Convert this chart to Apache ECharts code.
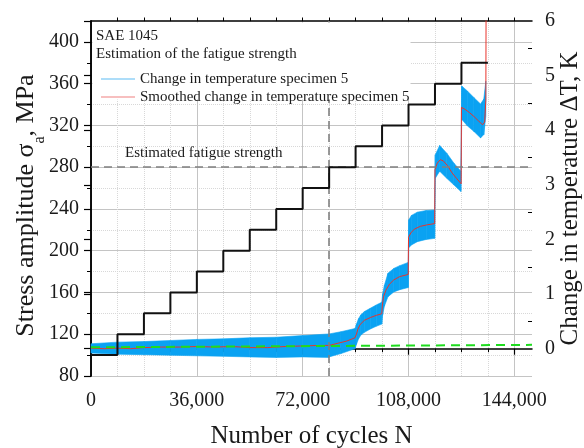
<!DOCTYPE html>
<html lang="en">
<head>
  <meta charset="UTF-8">
  <title>SAE 1045 fatigue strength</title>
  <script src="https://cdn.jsdelivr.net/npm/echarts@6.0.0/dist/echarts.min.js"></script>
  <style>
    html, body { margin: 0; padding: 0; background: #fff; }
    #main { width: 584px; height: 448px; }
  </style>
</head>
<body>
<div id="main"></div>
<script>
  // load steps (stress amplitude, MPa)
  var stepN = [0, 9000, 18000, 27000, 36000, 45000, 54000, 63000, 72000, 81000, 90000, 99000, 108000, 117000, 126000, 135000];
  var stepS = [100, 120, 140, 160, 180, 200, 220, 240, 260, 280, 300, 320, 340, 360, 380, 380];

  // raw temperature signal, drawn as its scatter band (lower / upper edge), K
  var bandN = [0, 9000, 18000, 27000, 36000, 45000, 54000, 63000, 72000, 80900, 81000, 85000, 89800, 90300, 91000, 91800, 93000, 95000, 97000, 98900,
    99200, 99800, 101000, 103000, 105000, 107900, 108100, 109000, 111000, 114000, 116900, 117100, 118600, 121000, 123400, 125800,
    126100, 128000, 130200, 132500, 133600, 134300];
  var bandLow = [-0.08, -0.10, -0.11, -0.12, -0.13, -0.14, -0.15, -0.16, -0.15, -0.16, -0.15, -0.09, 0.00, 0.08, 0.18, 0.25, 0.30, 0.36, 0.41, 0.45,
    0.62, 0.78, 0.95, 1.04, 1.08, 1.12, 1.85, 1.90, 1.96, 2.00, 2.02, 3.12, 3.25, 3.12, 3.00, 2.88,
    4.20, 4.08, 3.98, 3.86, 3.92, 4.26];
  var bandHigh = [0.09, 0.12, 0.13, 0.15, 0.17, 0.18, 0.20, 0.21, 0.24, 0.27, 0.27, 0.31, 0.37, 0.45, 0.55, 0.62, 0.68, 0.74, 0.80, 0.85,
    1.00, 1.16, 1.38, 1.47, 1.52, 1.58, 2.36, 2.44, 2.50, 2.53, 2.54, 3.55, 3.72, 3.58, 3.40, 3.25,
    4.81, 4.72, 4.60, 4.48, 4.57, 4.90];

  // smoothed temperature, K
  var redN = [0, 4500, 9000, 13500, 18000, 24000, 30000, 36000, 42000, 48000, 54000, 60000, 66000, 72000, 78000, 81000, 84000, 87000, 89800,
    90300, 90800, 91500, 93000, 95000, 97000, 98900, 99100, 99500, 100300, 101500, 103000, 105000, 107900,
    108000, 108800, 110000, 112000, 114500, 116900, 117000, 117800, 118800, 119800, 121300, 122800, 124300, 125900,
    126000, 127300, 128800, 130300, 131800, 133200, 133900, 134300, 134400];
  var redT = [0.01, 0.00, 0.01, 0.00, 0.02, 0.03, 0.03, 0.04, 0.03, 0.04, 0.02, 0.02, 0.04, 0.05, 0.06, 0.06, 0.10, 0.14, 0.20,
    0.27, 0.36, 0.44, 0.52, 0.57, 0.61, 0.64, 0.80, 0.95, 1.07, 1.18, 1.26, 1.32, 1.36,
    2.04, 2.12, 2.19, 2.24, 2.27, 2.29, 3.28, 3.40, 3.46, 3.44, 3.35, 3.22, 3.12, 3.02,
    4.42, 4.38, 4.32, 4.25, 4.17, 4.10, 4.15, 4.55, 6.60];

  // baseline fit (green dashed)
  var baseN = [0, 150000];
  var baseT = [0.025, 0.07];

  var fatigueLimit = 280;
  var fatigueN = 81000;

  // ticks
  var xMajor = [0, 36000, 72000, 108000, 144000];
  var xMinor = [9000, 18000, 27000, 45000, 54000, 63000, 81000, 90000, 99000, 117000, 126000, 135000];
  var xTop = [9000, 18000, 27000, 36000, 45000, 54000, 63000, 72000, 81000, 90000, 99000, 108000, 117000, 126000, 135000, 144000];
  var sMajor = [80, 120, 160, 200, 240, 280, 320, 360, 400];
  var sMinor = [100, 140, 180, 220, 260, 300, 340, 380];
  var tMajor = [0, 1, 2, 3, 4, 5, 6];
  var tMinor = [0.5, 1.5, 2.5, 3.5, 4.5, 5.5];

  var bandName = 'Change in temperature specimen 5';
  var redName = 'Smoothed change in temperature specimen 5';

  var serif = "'Liberation Serif', 'DejaVu Serif', serif";
  var ink = '#1a1a1a';

  function zip(a, b) {
    var out = [];
    for (var i = 0; i < a.length; i++) out.push([a[i], b[i]]);
    return out;
  }
  function thousands(v) {
    return String(v).replace(/\B(?=(\d{3})+(?!\d))/g, ',');
  }

  var bandData = [];
  for (var i = 0; i < bandN.length; i++) bandData.push([bandN[i], bandLow[i], bandHigh[i]]);

  var chart = echarts.init(document.getElementById('main'), null, {renderer: 'canvas'});

  var option = {
    animation: false,
    backgroundColor: '#fff',
    grid: {left: 91, right: 52, top: 21, bottom: 72, containLabel: false, outerBoundsMode: 'none'},
    legend: {
      orient: 'vertical',
      left: 96,
      top: 66,
      z: 60,
      itemWidth: 34,
      itemHeight: 1.2,
      itemGap: 2,
      selectedMode: false,
      textStyle: {fontFamily: serif, fontSize: 15, color: ink, lineHeight: 16},
      data: [
        {name: bandName, icon: 'rect', itemStyle: {color: '#5cbcf4'}},
        {name: redName, icon: 'rect', itemStyle: {color: '#f08080'}}
      ]
    },
    graphic: [
      {type: 'rect', left: 92.5, top: 22.5, shape: {width: 318, height: 77}, style: {fill: '#fff'}, z: 50, silent: true},
      {type: 'text', left: 96, top: 29, z: 60, style: {text: 'SAE 1045', font: '15px ' + serif, fill: ink}},
      {type: 'text', left: 96, top: 47, z: 60, style: {text: 'Estimation of the fatigue strength', font: '15px ' + serif, fill: ink}},
      {type: 'text', left: 125, top: 146, z: 60, style: {text: 'Estimated fatigue strength', font: '15px ' + serif, fill: ink}}
    ],
    xAxis: [
      {
        type: 'value', position: 'bottom', min: 0, max: 150000,
        name: 'Number of cycles N', nameLocation: 'middle', nameGap: 48,
        nameTextStyle: {fontFamily: serif, fontSize: 25, color: ink},
        axisLine: {lineStyle: {color: '#000', width: 1.5}},
        axisTick: {customValues: xMajor, length: 6, lineStyle: {color: '#000', width: 1.2}},
        axisLabel: {customValues: xMajor, formatter: thousands, fontFamily: serif, fontSize: 20, color: ink, margin: 15},
        splitLine: {show: true, lineStyle: {color: '#c4c4c4', width: 1}}
      },
      {
        type: 'value', position: 'bottom', min: 0, max: 150000,
        axisLine: {show: false},
        axisTick: {customValues: xMinor, length: 3.5, lineStyle: {color: '#000', width: 1}},
        axisLabel: {show: false},
        splitLine: {show: true, lineStyle: {color: '#d8d8d8', width: 1, type: 'dotted'}}
      },
      {
        type: 'value', position: 'top', min: 0, max: 150000,
        axisLine: {lineStyle: {color: '#000', width: 1.5}},
        axisTick: {customValues: xTop, length: 3.5, lineStyle: {color: '#000', width: 1}},
        axisLabel: {show: false},
        splitLine: {show: false}
      }
    ],
    yAxis: [
      {
        type: 'value', position: 'left', min: 80, max: 420,
        name: 'Stress amplitude σ{sub|a}, MPa', nameLocation: 'middle', nameGap: 52, nameRotate: 90,
        nameMoveOverlap: false,
        nameTextStyle: {fontFamily: serif, fontSize: 26, color: ink, padding: [0, 14, 0, 0],
          rich: {sub: {fontFamily: serif, fontSize: 16, color: ink, verticalAlign: 'bottom', padding: [0, 0, -9, 0]}}},
        axisLine: {lineStyle: {color: '#000', width: 1.5}},
        axisTick: {customValues: sMajor, length: 7, lineStyle: {color: '#000', width: 1.2}},
        axisLabel: {customValues: sMajor, fontFamily: serif, fontSize: 20, color: ink, margin: 12},
        splitLine: {show: true, lineStyle: {color: '#c4c4c4', width: 1}}
      },
      {
        type: 'value', position: 'right', min: -0.5, max: 6,
        name: 'Change in temperature ΔT, K', nameLocation: 'middle', nameGap: 26, nameRotate: 90,
        nameMoveOverlap: false,
        nameTextStyle: {fontFamily: serif, fontSize: 25, color: ink},
        axisLine: {lineStyle: {color: '#000', width: 1.5}},
        axisTick: {customValues: tMajor, inside: true, length: 7, lineStyle: {color: '#000', width: 1.2}},
        axisLabel: {customValues: tMajor, fontFamily: serif, fontSize: 20, color: ink, margin: 13},
        splitLine: {show: false}
      },
      {
        type: 'value', position: 'left', min: 80, max: 420,
        axisLine: {show: false},
        axisTick: {customValues: sMinor, length: 4, lineStyle: {color: '#000', width: 1}},
        axisLabel: {show: false},
        splitLine: {show: true, lineStyle: {color: '#d8d8d8', width: 1, type: 'dotted'}}
      },
      {
        type: 'value', position: 'right', min: -0.5, max: 6,
        axisLine: {show: false},
        axisTick: {customValues: tMinor, inside: true, length: 4, lineStyle: {color: '#000', width: 1}},
        axisLabel: {show: false},
        splitLine: {show: false}
      }
    ],
    series: [
      {
        name: bandName,
        type: 'custom',
        xAxisIndex: 0,
        yAxisIndex: 1,
        z: 2,
        itemStyle: {color: '#0aa2f2'},
        encode: {x: 0, y: [1, 2]},
        data: bandData,
        renderItem: function (params, api) {
          var i = params.dataIndex;
          if (i >= bandN.length - 1) return null;
          var p = [
            api.coord([bandN[i], bandHigh[i]]),
            api.coord([bandN[i + 1], bandHigh[i + 1]]),
            api.coord([bandN[i + 1], bandLow[i + 1]]),
            api.coord([bandN[i], bandLow[i]])
          ];
          return {
            type: 'polygon',
            shape: {points: p},
            style: {fill: '#0aa2f2', stroke: '#0aa2f2', lineWidth: 0.6}
          };
        }
      },
      {
        name: redName,
        type: 'line',
        xAxisIndex: 0,
        yAxisIndex: 1,
        z: 4,
        symbol: 'none',
        data: zip(redN, redT),
        lineStyle: {color: '#e8342c', width: 1},
        itemStyle: {color: '#e8342c'}
      },
      {
        name: 'baseline',
        type: 'line',
        xAxisIndex: 0,
        yAxisIndex: 1,
        z: 5,
        symbol: 'none',
        data: zip(baseN, baseT),
        lineStyle: {color: '#1fdc1f', width: 2, type: [9, 6]}
      },
      {
        name: 'load steps',
        type: 'line',
        xAxisIndex: 0,
        yAxisIndex: 0,
        z: 8,
        step: 'end',
        symbol: 'none',
        data: zip(stepN, stepS),
        lineStyle: {color: '#111', width: 2},
        markLine: {
          silent: true,
          symbol: ['none', 'none'],
          label: {show: false},
          lineStyle: {color: '#808080', width: 1.6, type: [8, 5]},
          data: [
            {yAxis: fatigueLimit},
            {xAxis: fatigueN}
          ]
        }
      }
    ]
  };

  chart.setOption(option);
</script>
</body>
</html>
